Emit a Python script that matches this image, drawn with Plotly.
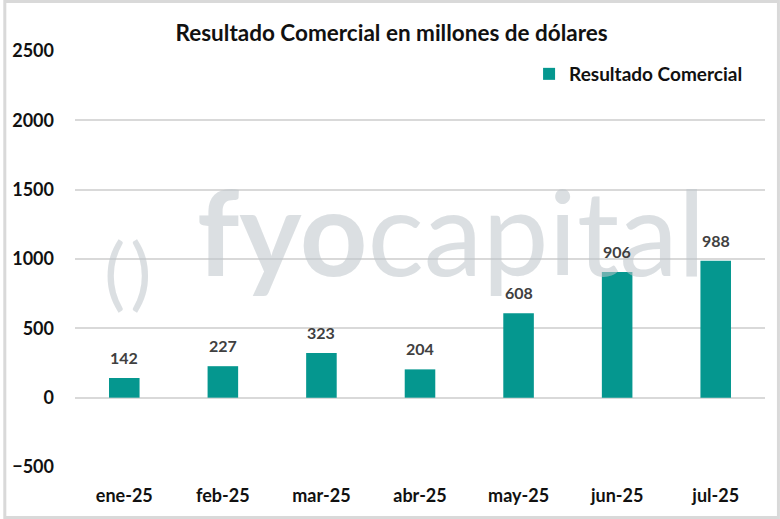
import plotly.graph_objects as go

categories = ["ene-25", "feb-25", "mar-25", "abr-25", "may-25", "jun-25", "jul-25"]
values = [142, 227, 323, 204, 608, 906, 988]
y_ticks = [-500, 0, 500, 1000, 1500, 2000, 2500]

TEAL = "#05978F"
FONT = "Lato"

fig = go.Figure()
fig.add_trace(go.Bar(
    x=categories, y=values, name="Resultado Comercial",
    marker=dict(color=TEAL, line=dict(width=0)),
    cliponaxis=False,
))

L, R, T, B = 72, 15, 51, 52
W, H = 780, 519
pw, ph = W - L - R, H - T - B

def px(x):
    return (x - L) / pw

def py(y):
    return (H - B - y) / ph

fig.update_layout(
    width=W, height=H,
    margin=dict(l=L, r=R, t=T, b=B),
    paper_bgcolor="white", plot_bgcolor="white",
    bargap=0.69,
    showlegend=True,
    title=dict(text="<b>Resultado Comercial en millones de dólares</b>",
               x=px(390), xanchor="center", xref="paper", y=1 - 33 / H, yanchor="middle",
               font=dict(family=FONT, size=22.5, color="#111111")),
    legend=dict(x=px(748), xanchor="right", y=py(74), yanchor="middle",
                font=dict(family=FONT, size=19, color="#111111", weight="bold"),
                bgcolor="rgba(0,0,0,0)", itemwidth=30),
    xaxis=dict(showgrid=False, showline=False, ticks="",
               ticklabelstandoff=16,
               tickfont=dict(family=FONT, size=18, color="#111111", weight="bold")),
    yaxis=dict(range=[-500, 2500], tickvals=y_ticks, showgrid=True,
               gridcolor="#D9D9D9", gridwidth=1.5, zeroline=True,
               zerolinecolor="#D9D9D9", zerolinewidth=1.5, ticks="",
               ticklabelstandoff=20,
               tickfont=dict(family=FONT, size=18, color="#111111", weight="bold")),
    font=dict(family=FONT),
)

# watermark (drawn first so labels sit on top)
fig.add_annotation(text="<b>fyo</b>capital", xref="paper", yref="paper",
                   x=px(450), y=py(230), xanchor="center", yanchor="middle",
                   showarrow=False,
                   font=dict(family=FONT, size=118, color="rgba(190,196,202,0.55)"))
fig.add_annotation(text="(&#8202;)", xref="paper", yref="paper",
                   x=px(125), y=py(270), xanchor="center", yanchor="middle",
                   showarrow=False,
                   font=dict(family=FONT, size=80, color="rgba(190,196,202,0.55)"))

# data labels
for c, v in zip(categories, values):
    fig.add_annotation(x=c, y=v, text=f"<b>{v}</b>", showarrow=False,
                       xanchor="center", yanchor="bottom", yshift=9,
                       font=dict(family=FONT, size=16, color="#404040"))

# outer border
fig.add_shape(type="rect", xref="paper", yref="paper",
              x0=px(1.5), x1=px(W - 1.5), y0=py(H - 1.5), y1=py(1.5),
              line=dict(color="#D9D9D9", width=3), layer="below")

fig.write_html("out.html")
